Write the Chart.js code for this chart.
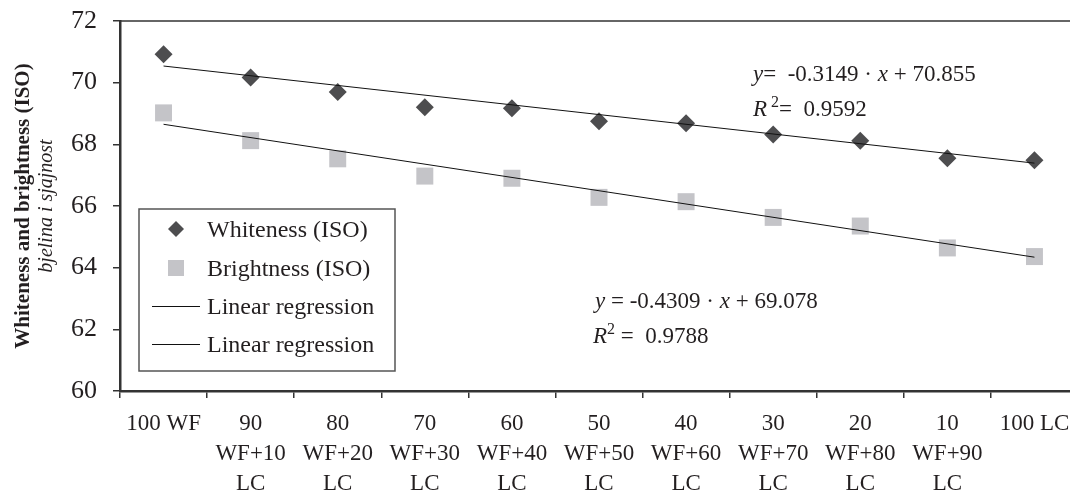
<!DOCTYPE html>
<html>
<head>
<meta charset="utf-8">
<script src="https://cdn.jsdelivr.net/npm/chart.js@4.4.0/dist/chart.umd.min.js"></script>
<style>
  html, body { margin: 0; padding: 0; background: #fff; overflow: hidden; }
  #wrap { width: 1070px; height: 492px; overflow: hidden; position: relative; }
  #chart { display: block; }
</style>
</head>
<body>
<div id="wrap"><canvas id="chart" width="1100" height="492"></canvas></div>
<script>
// categories (multi line x labels)
const categories = [
  ['100 WF'],
  ['90', 'WF+10', 'LC'],
  ['80', 'WF+20', 'LC'],
  ['70', 'WF+30', 'LC'],
  ['60', 'WF+40', 'LC'],
  ['50', 'WF+50', 'LC'],
  ['40', 'WF+60', 'LC'],
  ['30', 'WF+70', 'LC'],
  ['20', 'WF+80', 'LC'],
  ['10', 'WF+90', 'LC'],
  ['100 LC']
];

// measured values
const whiteness = [70.92, 70.17, 69.70, 69.20, 69.17, 68.75, 68.68, 68.32, 68.12, 67.55, 67.48];
const brightness = [69.02, 68.12, 67.53, 66.97, 66.90, 66.28, 66.14, 65.63, 65.35, 64.64, 64.36];

// regression lines, only the two end points
const regWhiteness = [70.54, null, null, null, null, null, null, null, null, null, 67.39];
const regBrightness = [68.65, null, null, null, null, null, null, null, null, null, 64.34];

// y axis
const yMin = 60;
const yMax = 72;
const yStep = 2;

const serif = '"Liberation Serif", "Times New Roman", serif';
const textColor = '#231f20';

// draws text pieces one after another, [text, italic, superscript]
function drawRich(ctx, x, y, parts, size) {
  let cx = x;
  parts.forEach(function(p) {
    const sup = p[2];
    const fs = sup ? Math.round(size * 0.7) : size;
    ctx.font = (p[1] ? 'italic ' : '') + fs + 'px ' + serif;
    ctx.fillText(p[0], cx, sup ? y - size * 0.4 : y);
    cx += ctx.measureText(p[0]).width;
  });
}

// frame, y title, legend and equations
const extras = {
  id: 'extras',
  afterDatasetsDraw(chart) {
    const ctx = chart.ctx;
    const a = chart.chartArea;
    ctx.save();

    // top frame line
    ctx.strokeStyle = '#333';
    ctx.lineWidth = 1.5;
    ctx.beginPath();
    ctx.moveTo(a.left, a.top);
    ctx.lineTo(a.right, a.top);
    ctx.stroke();

    ctx.fillStyle = textColor;
    ctx.textBaseline = 'alphabetic';

    // y title, two lines
    const midY = (a.top + a.bottom) / 2;
    ctx.save();
    ctx.translate(29, midY);
    ctx.rotate(-Math.PI / 2);
    ctx.textAlign = 'center';
    ctx.font = 'bold 21px ' + serif;
    ctx.fillText('Whiteness and brightness (ISO)', 0, 0);
    ctx.font = 'italic 20px ' + serif;
    ctx.fillText('bjelina i sjajnost', 0, 23);
    ctx.restore();

    // equations
    ctx.textAlign = 'left';
    drawRich(ctx, 753, 81, [['y', true], ['=  -0.3149 · ', false], ['x', true], [' + 70.855', false]], 23);
    drawRich(ctx, 753, 116, [['R', true], [' 2', false, true], ['=  0.9592', false]], 23);
    drawRich(ctx, 595, 308, [['y', true], [' = -0.4309 · ', false], ['x', true], [' + 69.078', false]], 23);
    drawRich(ctx, 593, 343, [['R', true], ['2', false, true], [' =  0.9788', false]], 23);

    // legend box
    ctx.fillStyle = '#fff';
    ctx.fillRect(139, 209, 256, 162);
    ctx.strokeStyle = '#555';
    ctx.lineWidth = 1.5;
    ctx.strokeRect(139, 209, 256, 162);

    const ds = chart.data.datasets;
    const rows = [237, 276, 314, 352];
    ds.forEach(function(d, i) {
      const ty = rows[i];
      const cy = ty - 8;
      if (d.showLine === false) {
        ctx.fillStyle = d.backgroundColor;
        ctx.beginPath();
        if (d.pointStyle === 'rectRot') {
          ctx.moveTo(176, cy - 8);
          ctx.lineTo(184, cy);
          ctx.lineTo(176, cy + 8);
          ctx.lineTo(168, cy);
        } else {
          ctx.rect(168, cy - 8, 16, 16);
        }
        ctx.closePath();
        ctx.fill();
      } else {
        ctx.strokeStyle = d.borderColor;
        ctx.lineWidth = 1;
        ctx.beginPath();
        ctx.moveTo(152, cy + 0.5);
        ctx.lineTo(200, cy + 0.5);
        ctx.stroke();
      }
      ctx.fillStyle = textColor;
      ctx.font = '24px ' + serif;
      ctx.fillText(d.label, 207, ty);
    });

    ctx.restore();
  }
};

const ctx = document.getElementById('chart').getContext('2d');
const chart = new Chart(ctx, {
  type: 'line',
  data: {
    labels: categories,
    datasets: [
      {
        label: 'Whiteness (ISO)',
        data: whiteness,
        showLine: false,
        pointStyle: 'rectRot',
        pointRadius: 9,
        pointHoverRadius: 9,
        backgroundColor: '#4d4d4f',
        borderColor: '#4d4d4f',
        borderWidth: 0,
        order: 2
      },
      {
        label: 'Brightness (ISO)',
        data: brightness,
        showLine: false,
        pointStyle: 'rect',
        pointRadius: 12,
        pointHoverRadius: 12,
        backgroundColor: '#c4c4c8',
        borderColor: '#c4c4c8',
        borderWidth: 0,
        order: 3
      },
      {
        label: 'Linear regression',
        data: regWhiteness,
        spanGaps: true,
        pointRadius: 0,
        borderColor: '#111',
        borderWidth: 1,
        order: 1
      },
      {
        label: 'Linear regression',
        data: regBrightness,
        spanGaps: true,
        pointRadius: 0,
        borderColor: '#111',
        borderWidth: 1,
        order: 1
      }
    ]
  },
  options: {
    responsive: false,
    animation: false,
    layout: { padding: { left: 0, right: 22, top: 21, bottom: 0 } },
    plugins: {
      legend: { display: false },
      tooltip: { enabled: false }
    },
    scales: {
      x: {
        offset: true,
        afterFit: function(s) {
          s.height = 101;
          s.paddingLeft = 0;
          s.paddingRight = 0;
        },
        grid: { offset: true, drawOnChartArea: false, drawTicks: true, tickLength: 7, color: '#333', lineWidth: 1.5 },
        border: { display: true, color: '#333', width: 2.5 },
        ticks: {
          color: textColor,
          padding: 11,
          maxRotation: 0,
          autoSkip: false,
          font: { family: serif, size: 23, lineHeight: 1.3 }
        }
      },
      y: {
        min: yMin,
        max: yMax,
        afterFit: function(s) {
          s.width = 120;
          s.paddingTop = 0;
          s.paddingBottom = 0;
        },
        grid: { drawOnChartArea: false, drawTicks: true, tickLength: 7, color: '#333', lineWidth: 1.5 },
        border: { display: true, color: '#333', width: 2.5 },
        ticks: {
          stepSize: yStep,
          color: textColor,
          padding: 16,
          font: { family: serif, size: 26 }
        }
      }
    }
  },
  plugins: [extras]
});
</script>
</body>
</html>
